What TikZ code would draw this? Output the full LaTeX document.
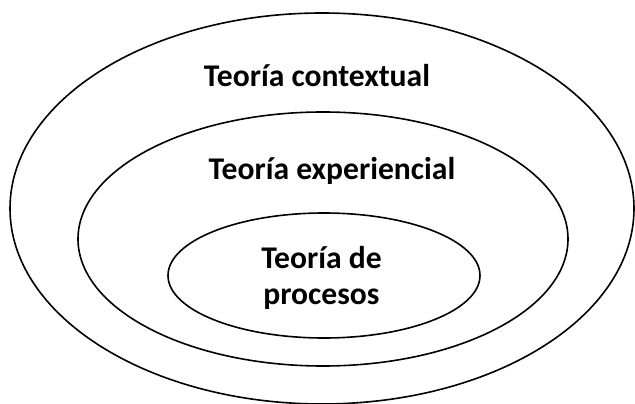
\documentclass[tikz,border=0pt]{standalone}
\usepackage{fontspec}
\setmainfont{Carlito}
\usetikzlibrary{shapes.geometric, positioning}

\begin{document}
\begin{tikzpicture}[x=1pt,y=-1pt]
    \tikzstyle{ring}=[ellipse,draw=black,line width=1.6pt,inner sep=0pt]
    \tikzstyle{theory}=[font=\fontsize{31.6}{36}\selectfont\bfseries, align=center, inner sep=0pt]

    \useasboundingbox (0,0) rectangle (635,404);

    % Draw the three nested rings
    \node[ring, minimum width=624pt, minimum height=391pt] (contextual) at (322,208.5) {};
    \node[ring, minimum width=490pt, minimum height=254pt] (experiencial) at (323,239) {};
    \node[ring, minimum width=312pt, minimum height=125pt] (procesos) at (324,275.5) {};

    % Labels of the rings
    \node[theory, anchor=base] (contextual-l) at (317,87) {Teoría contextual};
    \node[theory, anchor=base] (experiencial-l) at (332,179) {Teoría experiencial};
    \node[theory] (procesos-l) at (321.5,278) {Teoría de\\procesos};
\end{tikzpicture}
\end{document}
